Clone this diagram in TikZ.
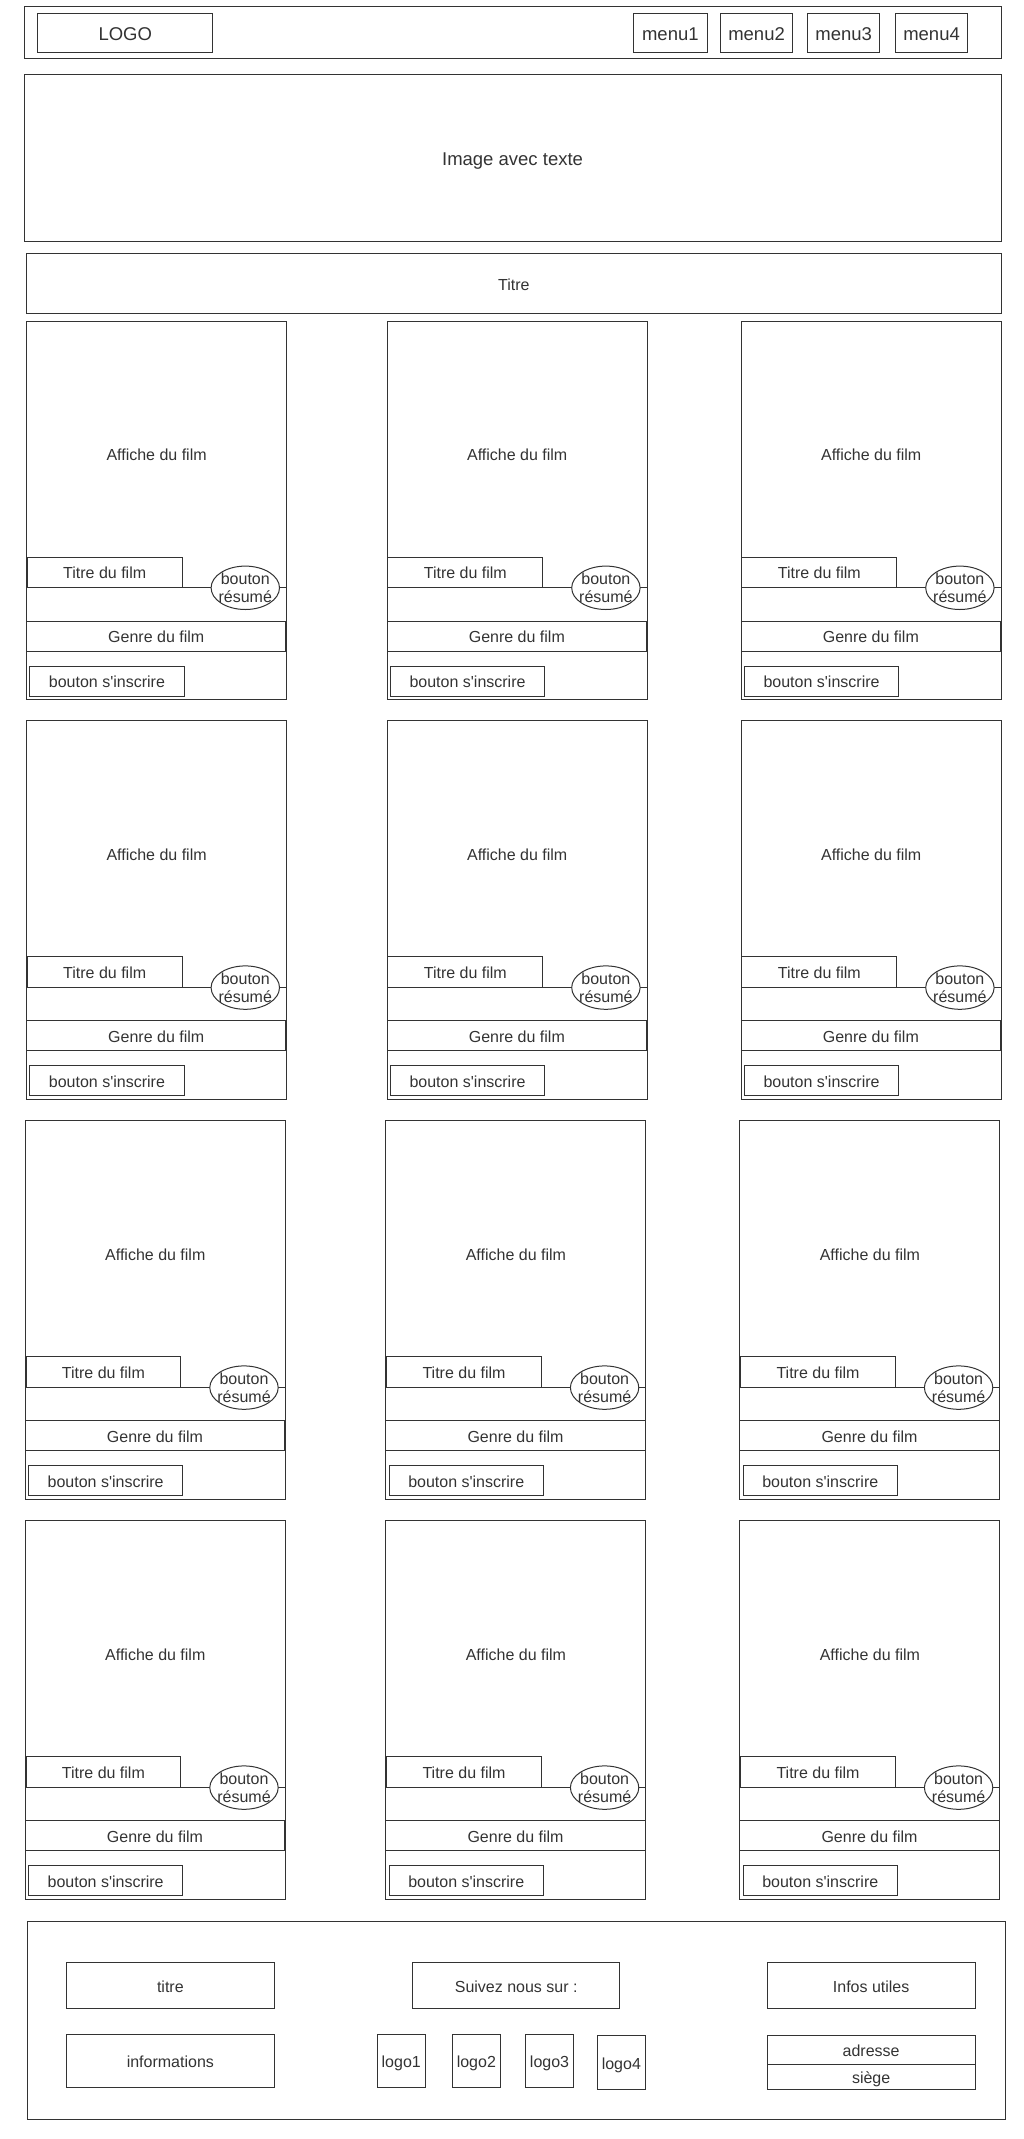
\documentclass[tikz,border=0pt]{standalone}
\usepackage{fontspec}
\setmainfont{Liberation Sans}[Ligatures=TeXOff]
\usetikzlibrary{shapes.geometric}
\definecolor{wire}{HTML}{333333}
\tikzset{
  box/.style={draw=wire, line width=1pt, rectangle, inner sep=0pt, anchor=north west,
    text=wire, font=\fontsize{16}{18}\selectfont, text height=13pt, text depth=0pt},
  wh/.style 2 args={minimum width=#1pt, minimum height=#2pt},
  big/.style={font=\fontsize{18.5}{22}\selectfont, text height=15pt},
  bulle/.style={draw=wire, line width=1pt, ellipse, fill=white, inner sep=0pt},
  lbl/.style={text=wire, font=\fontsize{16}{18}\selectfont, align=center, inner sep=0pt}
}
\begin{document}
\begin{tikzpicture}[x=1pt, y=-1pt]
\useasboundingbox (0,0) rectangle (1024,2139);

%Header
\node[box, wh={977.1}{52.3}] (head) at (23.5,6) {};
\node[box, big, wh={175.1}{39}] (logo) at (37.2,13.3) {LOGO};
\node[box, big, wh={73.7}{39}] (menu1) at (633,13.3) {menu1};
\node[box, big, wh={72.5}{39}] (menu2) at (719.8,13.3) {menu2};
\node[box, big, wh={71.9}{39}] (menu3) at (807.3,13.3) {menu3};
\node[box, big, wh={72.5}{39}] (menu4) at (894.8,13.3) {menu4};

%Banner
\node[box, big, wh={977.1}{167}] (banner) at (23.5,74.3) {Image avec texte};
\node[box, wh={974.5}{60}] (titre) at (26.1,253.3) {Titre};

% Cards
\foreach \r/\t/\dx in {1/320.5/0, 2/720.3/0, 3/1120.3/-1.3, 4/1520.3/-1.3} {
  \foreach \c/\l in {1/26.1, 2/386.7, 3/740.7} {
    \node[box, wh={260}{378.7}] (card\r\c) at ({\l+\dx},\t) {};
    \node[box, wh={260}{266.7}] (aff\r\c) at ({\l+\dx},\t) {Affiche du film};
    \node[box, wh={154.8}{30.4}] (tf\r\c) at ({\l+\dx+0.7},{\t+236}) {Titre du film};
    \node[bulle, minimum width=68.4pt, minimum height=43.4pt] (res\r\c) at ({\l+\dx+219.2},{\t+267.3}) {};
    \node[lbl] (rest\r\c) at (res\r\c) {bouton\\résumé};
    \node[box, wh={259.3}{30}] (genre\r\c) at ({\l+\dx},{\t+300}) {Genre du film};
    \node[box, wh={154.1}{30}] (insc\r\c) at ({\l+\dx+3.3},{\t+345}) {bouton s'inscrire};
  }
}

%Footer
\node[box, wh={977.8}{197.7}] (foot) at (26.8,1921.3) {};
\node[box, wh={207.7}{46.3}] (ftitre) at (66,1962) {titre};
\node[box, wh={207}{46.3}] (suivez) at (412.2,1962) {Suivez nous sur :};
\node[box, wh={207.7}{46.3}] (infos) at (766.8,1962) {Infos utiles};
\node[box, wh={207.7}{53}] (infor) at (66,2034.3) {informations};
\node[box, wh={47.7}{53}] (logo1) at (376.9,2034.3) {logo1};
\node[box, wh={47.7}{53}] (logo2) at (452,2034.3) {logo2};
\node[box, wh={47.7}{53}] (logo3) at (525.2,2034.3) {logo3};
\node[box, wh={47.7}{53.4}] (logo4) at (597,2035.3) {logo4};
\node[box, wh={207.7}{29}] (adresse) at (766.8,2035.3) {adresse};
\node[box, wh={207.7}{24.4}] (siege) at (766.8,2064.3) {siège};
\end{tikzpicture}
\end{document}
